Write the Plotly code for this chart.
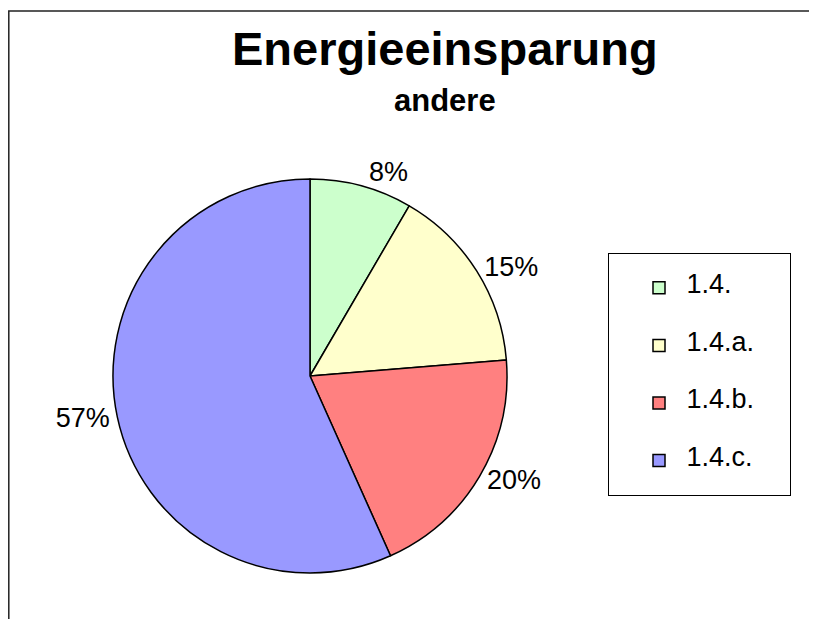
import plotly.graph_objects as go

categories = ["1.4.", "1.4.a.", "1.4.b.", "1.4.c."]
values = [8.4, 15.3, 19.6, 56.7]
colors = ["#CCFFCC", "#FFFFCC", "#FF8080", "#9999FF"]

W, H = 817, 619
FONT = "Liberation Sans, Arial, sans-serif"

# legend entries: middle line carries the label, blank lines give the vertical spacing
legend_labels = [
    "&nbsp;<br><span style='font-size:27px'>&nbsp;" + c + "&nbsp;&nbsp;&nbsp;&nbsp;</span><br>&nbsp;"
    for c in categories
]

fig = go.Figure(go.Pie(
    labels=legend_labels,
    values=values,
    sort=False,
    direction="clockwise",
    rotation=0,
    marker=dict(colors=colors, line=dict(color="black", width=1.5)),
    textposition="outside",
    texttemplate="%{percent:.0%}",
    textfont=dict(family=FONT, size=27, color="black"),
    domain=dict(x=[105/W, 499/W], y=[1-566/H, 1-170/H]),
    showlegend=True,
    hoverinfo="percent",
))

fig.update_layout(
    width=W, height=H,
    margin=dict(l=0, r=0, t=0, b=0),
    paper_bgcolor="white",
    plot_bgcolor="white",
    font=dict(family=FONT, color="black"),
    legend=dict(
        x=600/W, y=1-245/H, xanchor="left", yanchor="top",
        bordercolor="black", borderwidth=1, bgcolor="white",
        font=dict(family=FONT, size=14, color="black"),
        indentation=30,
    ),
    shapes=[dict(type="rect", xref="paper", yref="paper",
                 x0=0.8/W, x1=1.2, y0=-0.2, y1=1-3/H,
                 line=dict(color="#222222", width=1.5), fillcolor="rgba(0,0,0,0)")],
    annotations=[
        dict(text="<b>Energieeinsparung</b>", x=437/W, y=1-41/H, xref="paper", yref="paper",
             xanchor="center", yanchor="middle", showarrow=False,
             font=dict(family=FONT, size=47, color="black")),
        dict(text="<b>andere</b>", x=437/W, y=1-92/H, xref="paper", yref="paper",
             xanchor="center", yanchor="middle", showarrow=False,
             font=dict(family=FONT, size=31, color="black")),
    ],
)

fig.write_html("out.html")
